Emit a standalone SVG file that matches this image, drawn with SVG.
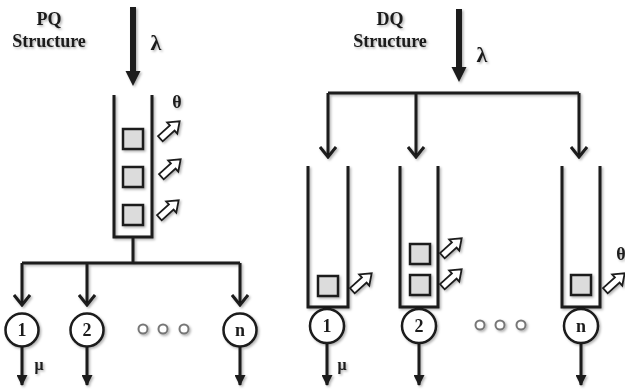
<svg xmlns="http://www.w3.org/2000/svg" width="625" height="390" viewBox="0 0 625 390">
<style>
.ln{fill:none;stroke:#1a1a1a;stroke-width:3}
.wall{fill:none;stroke:#1a1a1a;stroke-width:3}
.box{fill:#dcdcdc;stroke:#1a1a1a;stroke-width:2.5}
.srv{fill:#fff;stroke:#1a1a1a;stroke-width:2.5}
.dot{fill:#fff;stroke:#777;stroke-width:2}
.t{font-family:"Liberation Serif","Times New Roman",serif;font-weight:bold;fill:#1a1a1a;text-anchor:middle}
.ttl{font-size:18px}
.num{font-size:18px}
.lam{font-size:22px}
.th{font-size:18px}
.mu{font-size:16px}
</style>
<defs>
<filter id="sh" x="-10%" y="-10%" width="130%" height="130%">
<feDropShadow dx="1.5" dy="1.5" stdDeviation="1.2" flood-color="#000" flood-opacity="0.3"/>
</filter>
<marker id="chev" viewBox="0 0 16 18" refX="14" refY="9" markerWidth="16" markerHeight="18" markerUnits="userSpaceOnUse" orient="auto">
<path d="M4,1 L14,9 L4,17" fill="none" stroke="#1a1a1a" stroke-width="3"/>
</marker>
<marker id="tri" viewBox="0 0 12 12" refX="11" refY="6" markerWidth="12" markerHeight="11" markerUnits="userSpaceOnUse" orient="auto">
<path d="M0,0 L12,6 L0,12 Z" fill="#1a1a1a"/>
</marker>
<path id="ha" d="M-13,-3.5 H3 V-7.5 L13,0 L3,7.5 V3.5 H-13 Z" fill="#fff" stroke="#1a1a1a" stroke-width="1.8"/>
</defs>
<g filter="url(#sh)">
<g id="pq-title"><text class="t ttl" x="49" y="25">PQ</text><text class="t ttl" x="49" y="47">Structure</text></g>
<g id="dq-title"><text class="t ttl" x="390" y="25">DQ</text><text class="t ttl" x="390" y="47">Structure</text></g>

<g id="connectors">
<!-- PQ arrival -->
<path d="M133,7 V72" stroke="#1a1a1a" stroke-width="6" fill="none"/>
<path d="M125.5,71 H140.5 L133,86 Z" fill="#1a1a1a"/>
<text class="t lam" x="156" y="50">λ</text>
<!-- PQ bus -->
<path class="ln" d="M133,237 V263"/>
<path class="ln" d="M22,263 H240"/>
<path class="ln" d="M22,263 V305" marker-end="url(#chev)"/>
<path class="ln" d="M87,263 V305" marker-end="url(#chev)"/>
<path class="ln" d="M240,263 V305" marker-end="url(#chev)"/>
<!-- PQ outputs -->
<path class="ln" d="M22,347 V385" stroke-width="2.5" marker-end="url(#tri)"/>
<path class="ln" d="M87,347 V385" stroke-width="2.5" marker-end="url(#tri)"/>
<path class="ln" d="M240,347 V385" stroke-width="2.5" marker-end="url(#tri)"/>
<text class="t mu" x="39" y="370">μ</text>
<!-- DQ arrival -->
<path d="M459,9 V68" stroke="#1a1a1a" stroke-width="6" fill="none"/>
<path d="M451.5,67 H466.5 L459,82 Z" fill="#1a1a1a"/>
<text class="t lam" x="482" y="62">λ</text>
<!-- DQ bus -->
<path class="ln" d="M328,93 H579"/>
<path class="ln" d="M328,93 V157" marker-end="url(#chev)"/>
<path class="ln" d="M416,93 V157" marker-end="url(#chev)"/>
<path class="ln" d="M579,93 V157" marker-end="url(#chev)"/>
<!-- DQ outputs -->
<path class="ln" d="M327,343 V385" stroke-width="2.5" marker-end="url(#tri)"/>
<path class="ln" d="M419,343 V385" stroke-width="2.5" marker-end="url(#tri)"/>
<path class="ln" d="M581,343 V385" stroke-width="2.5" marker-end="url(#tri)"/>
<text class="t mu" x="342" y="370">μ</text>
</g>

<g id="pq-queue">
<path class="wall" d="M114,95 V237 H152 V95"/>
<rect class="box" x="123" y="129" width="20" height="20"/>
<rect class="box" x="123" y="167" width="20" height="20"/>
<rect class="box" x="123" y="205" width="20" height="20"/>
<use href="#ha" transform="translate(170,130) rotate(-42)"/>
<use href="#ha" transform="translate(171,168) rotate(-42)"/>
<use href="#ha" transform="translate(169,209) rotate(-42)"/>
<text class="t th" x="177" y="108">θ</text>
</g>

<g id="pq-server-1"><circle class="srv" cx="22" cy="330" r="16.5"/><text class="t num" x="22" y="336">1</text></g>
<g id="pq-server-2"><circle class="srv" cx="87" cy="330" r="16.5"/><text class="t num" x="87" y="336">2</text></g>
<g id="pq-ellipsis"><circle class="dot" cx="143" cy="329" r="4.5"/><circle class="dot" cx="163" cy="329" r="4.5"/><circle class="dot" cx="184" cy="329" r="4.5"/></g>
<g id="pq-server-n"><circle class="srv" cx="240" cy="330" r="16.5"/><text class="t num" x="240" y="335.5">n</text></g>

<g id="dq-queue-1">
<path class="wall" d="M308,166 V307 H348 V166"/>
<rect class="box" x="318" y="276" width="20" height="20"/>
<use href="#ha" transform="translate(362,282) rotate(-42)"/>
</g>
<g id="dq-queue-2">
<path class="wall" d="M400,166 V307 H438 V166"/>
<rect class="box" x="410" y="244" width="20" height="20"/>
<rect class="box" x="410" y="275" width="20" height="20"/>
<use href="#ha" transform="translate(452,247) rotate(-42)"/>
<use href="#ha" transform="translate(452,278) rotate(-42)"/>
</g>
<g id="dq-queue-n">
<path class="wall" d="M562,166 V307 H600 V166"/>
<rect class="box" x="571" y="275" width="20" height="20"/>
<use href="#ha" transform="translate(615,282) rotate(-42)"/>
<text class="t th" x="621" y="260">θ</text>
</g>

<g id="dq-server-1"><circle class="srv" cx="327" cy="326" r="17"/><text class="t num" x="327" y="332">1</text></g>
<g id="dq-server-2"><circle class="srv" cx="419" cy="326" r="17"/><text class="t num" x="419" y="332">2</text></g>
<g id="dq-ellipsis"><circle class="dot" cx="480" cy="325" r="4.5"/><circle class="dot" cx="500" cy="325" r="4.5"/><circle class="dot" cx="521" cy="325" r="4.5"/></g>
<g id="dq-server-n"><circle class="srv" cx="581" cy="326" r="17"/><text class="t num" x="581" y="331.5">n</text></g>
</g>
</svg>
